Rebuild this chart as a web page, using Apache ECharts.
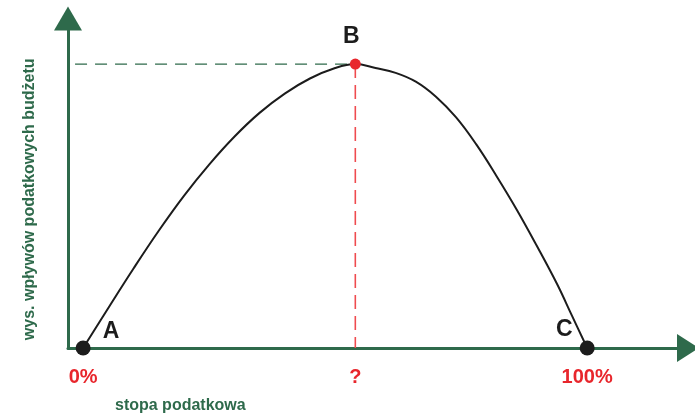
<!DOCTYPE html>
<html lang="pl">
<head>
<meta charset="utf-8">
<title>Krzywa Laffera</title>
<script src="https://cdn.jsdelivr.net/npm/echarts@6/dist/echarts.min.js"></script>
<style>
    html, body { margin: 0; padding: 0; background: #fff; }
    #main { width: 695px; height: 414px; }
</style>
</head>
<body>
<div id="main"></div>
<script>
    // stopa podatkowa (%) -> wpływy budżetu (skala względna, max = 100)
    var taxRate = [0, 5, 10, 15, 20, 25, 30, 35, 40, 45, 50, 54,
                   58, 62, 66, 70, 74, 78, 82, 86, 90, 94, 97, 100];
    var revenue = [0, 14.1, 28.0, 41.3, 53.6, 64.6, 74.4, 82.8, 89.6, 94.9, 98.6, 100,
                   98.6, 96.9, 93.8, 88.5, 81.2, 71.7, 60.6, 48.8, 36.0, 22.6, 11.3, 0];

    var pointNames = ['A', 'B', 'C'];
    var pointX = [0, 54, 100];
    var pointY = [0, 100, 0];

    var tickValues = [0, 54, 100];
    var tickLabels = ['0%', '?', '100%'];

    var green = '#2e6a4b';
    var red = '#e8262c';
    var font = 'Liberation Sans, Arial, sans-serif';

    var curve = [];
    for (var i = 0; i < taxRate.length; i++) {
        curve.push([taxRate[i], revenue[i]]);
    }

    var labelOffsets = [[28, -16], [-4, -27], [-23, -18]];
    var points = [];
    for (var j = 0; j < pointNames.length; j++) {
        var isPeak = pointNames[j] === 'B';
        points.push({
            name: pointNames[j],
            value: [pointX[j], pointY[j]],
            symbolSize: isPeak ? 11 : 15,
            itemStyle: { color: isPeak ? red : '#1c1c1c', opacity: 1 },
            label: { offset: labelOffsets[j] }
        });
    }

    var myChart = echarts.init(document.getElementById('main'));
    var option = {
        animation: false,
        title: {
            text: 'stopa podatkowa',
            left: 115,
            top: 398,
            padding: 0,
            textStyle: { color: green, fontSize: 16, fontWeight: 'bold', fontFamily: font }
        },
        grid: { left: 68, right: 7, top: 18.6, bottom: 66 },
        xAxis: {
            type: 'value',
            min: -3,
            max: 120,
            axisLine: {
                onZero: false,
                symbol: ['none', 'triangle'],
                symbolSize: [28, 22],
                lineStyle: { color: green, width: 3 }
            },
            axisTick: { show: false },
            splitLine: { show: false },
            axisLabel: {
                customValues: tickValues,
                margin: 19,
                color: red,
                fontSize: 20,
                fontWeight: 'bold',
                fontFamily: font,
                formatter: function (v) {
                    var k = tickValues.indexOf(v);
                    return k >= 0 ? tickLabels[k] : '';
                }
            }
        },
        yAxis: {
            type: 'value',
            min: 0,
            max: 116,
            name: 'wys. wpływów podatkowych budżetu',
            nameLocation: 'middle',
            nameRotate: 90,
            nameGap: 30,
            nameTextStyle: {
                color: green,
                fontSize: 16,
                fontWeight: 'bold',
                fontFamily: font,
                padding: [0, 32, 0, 0]
            },
            axisLine: {
                show: true,
                onZero: false,
                symbol: ['none', 'triangle'],
                symbolSize: [28, 24],
                lineStyle: { color: green, width: 3 }
            },
            axisTick: { show: false },
            axisLabel: { show: false },
            splitLine: { show: false }
        },
        series: [
            {
                type: 'line',
                data: [[-1.6, pointY[1]], [pointX[1], pointY[1]]],
                symbol: 'none',
                lineStyle: { color: green, width: 1.2, type: [12, 8] },
                silent: true
            },
            {
                type: 'line',
                data: [[pointX[1], pointY[1]], [pointX[1], 0]],
                symbol: 'none',
                lineStyle: { color: '#ef4b4f', width: 1.6, type: [14, 7] },
                silent: true
            },
            {
                type: 'line',
                data: curve,
                smooth: 0.4,
                symbol: 'none',
                lineStyle: { color: '#1c1c1c', width: 2 },
                silent: true
            },
            {
                type: 'scatter',
                data: points,
                z: 5,
                itemStyle: { opacity: 1 },
                label: {
                    show: true,
                    formatter: '{b}',
                    color: '#1c1c1c',
                    fontSize: 23,
                    fontWeight: 'bold',
                    fontFamily: font
                }
            }
        ]
    };
    myChart.setOption(option);
</script>
</body>
</html>
